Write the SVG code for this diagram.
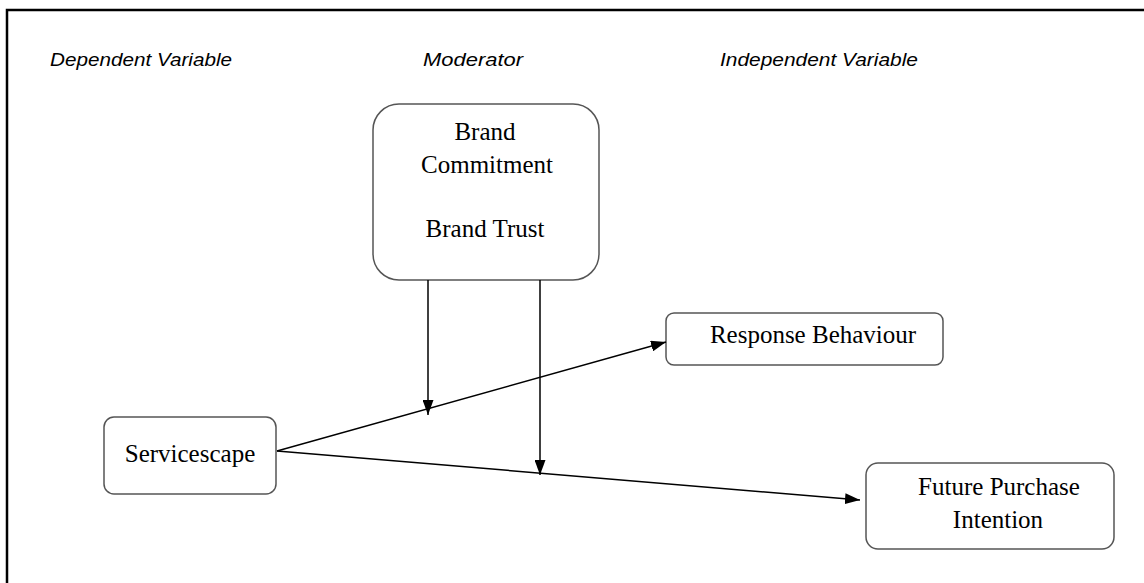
<svg xmlns="http://www.w3.org/2000/svg" width="1144" height="583" viewBox="0 0 1144 583">
<style>
.box{fill:#fff;stroke:#555;stroke-width:1.5}
.lbl{font-family:"Liberation Serif","Times New Roman",serif;font-size:25px;fill:#000;text-anchor:middle}
.hdr{font-family:"Liberation Sans",Arial,sans-serif;font-style:italic;font-size:19px;fill:#000}
.conn{stroke:#000;stroke-width:1.5;fill:none;marker-end:url(#ah)}
</style>
<defs>
<marker id="ah" viewBox="0 0 15 11" refX="15" refY="5.5" markerWidth="15" markerHeight="11" markerUnits="userSpaceOnUse" orient="auto">
<path d="M0,0 L15,5.5 L0,11 Z" fill="#000"/>
</marker>
</defs>
<rect width="1144" height="583" fill="#fff"/>
<path d="M7,583 V10 H1144" fill="none" stroke="#000" stroke-width="2.5"/>
<g id="headers">
<text class="hdr" x="50" y="66" textLength="182" lengthAdjust="spacingAndGlyphs">Dependent Variable</text>
<text class="hdr" x="423" y="66" textLength="100" lengthAdjust="spacingAndGlyphs">Moderator</text>
<text class="hdr" x="720" y="66" textLength="198" lengthAdjust="spacingAndGlyphs">Independent Variable</text>
</g>
<g id="moderator">
<rect class="box" x="373" y="104" width="226" height="176" rx="26"/>
<text class="lbl" x="485" y="140">Brand</text>
<text class="lbl" x="487" y="173">Commitment</text>
<text class="lbl" x="485" y="237">Brand Trust</text>
</g>
<g id="servicescape">
<rect class="box" x="104" y="417" width="172" height="77" rx="10"/>
<text class="lbl" x="190" y="462">Servicescape</text>
</g>
<g id="response">
<rect class="box" x="666" y="313" width="277" height="52" rx="8"/>
<text class="lbl" x="813" y="343">Response Behaviour</text>
</g>
<g id="future">
<rect class="box" x="866" y="463" width="248" height="86" rx="12"/>
<text class="lbl" x="999" y="495">Future Purchase</text>
<text class="lbl" x="998" y="528">Intention</text>
</g>
<g id="connectors">
<line class="conn" x1="277" y1="451" x2="666" y2="342"/>
<line class="conn" x1="277" y1="451" x2="860" y2="500"/>
<line class="conn" x1="428" y1="280" x2="428" y2="415"/>
<line class="conn" x1="540" y1="280" x2="540" y2="475"/>
</g>
</svg>
